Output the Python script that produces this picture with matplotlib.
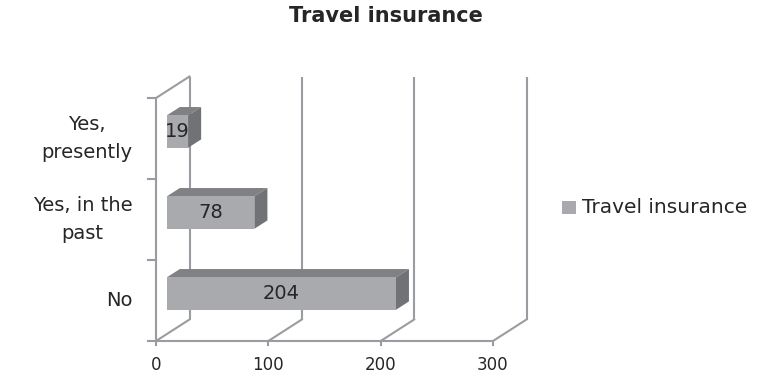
import matplotlib
matplotlib.use("Agg")
import matplotlib.pyplot as plt
from matplotlib.patches import Polygon, Rectangle
from matplotlib.transforms import Affine2D

categories = ['No', 'Yes, in the\npast', 'Yes,\npresently']
values = [204, 78, 19]
x_ticks = [0, 100, 200, 300]
series_name = 'Travel insurance'

W, H = 773, 377
# pixel shift of the back wall relative to the front plane
DEPTH_X, DEPTH_Y = 33.5, 21.5

FRONT = '#a9aaae'
TOP = '#808184'
SIDE = '#717276'
GRID = '#9b9ca1'
TEXT = '#262626'

fig = plt.figure(figsize=(W/100, H/100), dpi=100)
ax = fig.add_axes([156/W, 1 - 341/H, 337/W, 243/H])
ax.set_xlim(0, 300)
ax.set_ylim(0, 3)
ax.axis('off')


def at_depth(d):
	return ax.transData + Affine2D().translate(DEPTH_X*d, DEPTH_Y*d)


def line(xs, ys, depth=0):
	ax.plot(xs, ys, color=GRID, lw=1.5, clip_on=False, transform=at_depth(depth), solid_capstyle='butt', zorder=1)


# walls and floor
for x in x_ticks:
	line([x, x], [0, 3], 1)
	ax.plot([x, x + DEPTH_X*300/337], [0, DEPTH_Y*3/243], color=GRID, lw=1.5, clip_on=False, zorder=1)
line([0, 300], [0, 0])
line([0, 0], [0, 3])
ax.plot([0, DEPTH_X*300/337], [3, 3 + DEPTH_Y*3/243], color=GRID, lw=1.5, clip_on=False, zorder=1)

# axis ticks
for i in range(len(categories) + 1):
	ax.plot([-7, 0], [i, i], color=GRID, lw=1.5, clip_on=False, zorder=1)
for x in x_ticks:
	ax.plot([x, x], [0, -0.05], color=GRID, lw=1.5, clip_on=False, zorder=1)

# bars: front face sits at depth d0, back at d1
d0, d1 = 0.32, 0.71
bar_h = 0.4
for i, v in enumerate(values):
	y0 = i + 0.5 - bar_h/2
	y1 = y0 + bar_h
	dx = (d1 - d0)*DEPTH_X*300/337
	dy = (d1 - d0)*DEPTH_Y*3/243
	tr = at_depth(d0)
	ax.add_patch(Polygon([(0, y1), (v, y1), (v + dx, y1 + dy), (dx, y1 + dy)], fc=TOP, ec='none', transform=tr, clip_on=False, zorder=3))
	ax.add_patch(Polygon([(v, y0), (v + dx, y0 + dy), (v + dx, y1 + dy), (v, y1)], fc=SIDE, ec='none', transform=tr, clip_on=False, zorder=3))
	ax.add_patch(Rectangle((0, y0), v, bar_h, fc=FRONT, ec='none', transform=tr, clip_on=False, zorder=4))
	ax.text(v/2, i + 0.5, str(v), transform=tr, ha='center', va='center', fontsize=14, color=TEXT, zorder=5)

for i, c in enumerate(categories):
	ax.text(-21, i + 0.5, c, ha='right', va='center', fontsize=14, color=TEXT, multialignment='center', linespacing=1.6)

for x in x_ticks:
	ax.text(x, -0.36, str(x), ha='center', va='baseline', fontsize=12, color=TEXT)

fig.text(386/W, 1 - 16/H, series_name, ha='center', va='center', fontsize=15, fontweight='bold', color=TEXT)

# legend
fig.patches.append(Rectangle((562/W, 1 - 214/H), 14/W, 13/H, transform=fig.transFigure, fc=FRONT, ec='none'))
fig.text(582/W, 1 - 207/H, series_name, ha='left', va='center', fontsize=14.5, color=TEXT)

fig.savefig('out.png', dpi=100)
